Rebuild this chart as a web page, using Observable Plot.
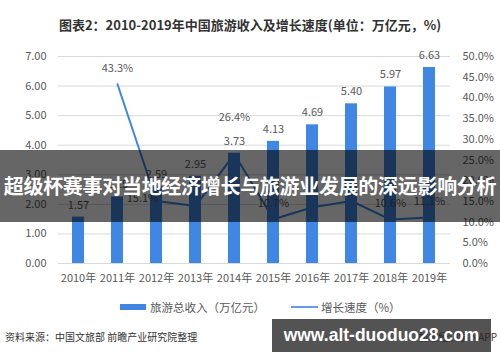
<!DOCTYPE html>
<html><head><meta charset="utf-8">
<script src="https://cdn.jsdelivr.net/npm/d3@7"></script>
<script src="https://cdn.jsdelivr.net/npm/@observablehq/plot@0.6"></script>
<style>
body{margin:0;background:#fff;font-family:"Noto Sans CJK SC","Noto Sans",sans-serif;}
#wrap{position:relative;width:500px;height:362px;overflow:hidden;background:#fff;}
#title{position:absolute;left:0;width:500px;top:15px;text-align:center;font-size:13px;font-weight:bold;color:#333;line-height:20px;}
#chart{position:absolute;left:0;top:0;}
#legend{position:absolute;top:298px;left:0;width:500px;height:18px;font-size:11.5px;color:#595959;}
#legend span{position:absolute;line-height:18px;white-space:nowrap;}
#source{position:absolute;left:5px;top:329px;font-size:10px;color:#333;line-height:16px;white-space:nowrap;}
#app{position:absolute;right:3px;top:329px;font-size:10px;color:#333;line-height:16px;white-space:nowrap;}
#banner{position:absolute;left:0;top:150px;width:500px;height:72px;background:rgba(0,0,0,0.6);color:#fff;font-weight:bold;font-size:20px;line-height:72px;text-align:center;white-space:nowrap;letter-spacing:-0.3px;}
#wm{position:absolute;left:272px;top:319px;width:219px;height:33px;background:rgba(40,40,40,0.8);color:#fff;font-weight:bold;font-size:17.5px;line-height:33px;text-align:center;white-space:nowrap;font-family:"Liberation Sans",Arial,sans-serif;}
</style></head>
<body><div id="wrap">
<div id="title">图表2：2010-2019年中国旅游收入及增长速度(单位：万亿元，%)</div>
<div id="chart"></div>
<div id="legend">
  <span style="left:120px;top:6px;width:26px;height:6px;background:#3d85df;"></span>
  <span style="left:150px;top:0;">旅游总收入（万亿元）</span>
  <span style="left:291px;top:8px;width:27px;height:2px;background:#5f9ef0;"></span>
  <span style="left:321px;top:0;">增长速度（%）</span>
</div>
<div id="source">资料来源：中国文旅部 前瞻产业研究院整理</div>
<div id="app">前瞻经济学人APP</div>
<div id="banner">超级杯赛事对当地经济增长与旅游业发展的深远影响分析</div>
<div id="wm">www.alt-duoduo28.com</div>
</div>
<script>
const years = ["2010年","2011年","2012年","2013年","2014年","2015年","2016年","2017年","2018年","2019年"];
const revenue = [1.57,2.25,2.59,2.95,3.73,4.13,4.69,5.40,5.97,6.63];
const growth = [null,43.3,15.1,13.9,26.4,10.7,13.6,15.1,10.6,11.1];
const labeledGrowthYears = ["2011年","2012年","2014年","2015年","2018年","2019年"];
const leftTicks = [0,1,2,3,4,5,6,7];
const rightTicks = [0,5,10,15,20,25,30,35,40,45,50];

const rightMax = 50, leftMax = 7;
const toLeft = v => v * leftMax / rightMax;

const bars = years.map((y,i)=>({year:y, rev:revenue[i]}));
const pts = years.map((y,i)=>({year:y, g:growth[i]})).filter(d=>d.g!=null);
const labeled = pts.filter(d=>labeledGrowthYears.includes(d.year));
const normalPts = labeled.filter(d=>d.year!=="2014年" && d.year!=="2012年");

const plot = Plot.plot({
  width:500, height:300,
  marginTop:56, marginBottom:37, marginLeft:58, marginRight:50,
  style:{fontFamily:'"Noto Sans CJK SC","Noto Sans",sans-serif', fontSize:"11px", color:"#595959", background:"transparent"},
  x:{domain:years, paddingInner:0.69, paddingOuter:0.345, label:null},
  y:{domain:[0,leftMax], label:null},
  marks:[
    Plot.gridY(leftTicks,{stroke:"#d9d9d9", strokeOpacity:1}),
    Plot.axisY(leftTicks,{anchor:"left", tickSize:0, tickPadding:12, tickFormat:d=>d.toFixed(2), label:null, fontSize:11}),
    Plot.axisY(rightTicks.map(toLeft),{anchor:"right", tickSize:0, tickPadding:12, tickFormat:d=>(d*rightMax/leftMax).toFixed(1)+"%", label:null, fontSize:11}),
    Plot.axisX({tickSize:0, tickPadding:11, label:null, fontSize:11}),
    Plot.barY(bars,{x:"year", y:"rev", fill:"#3f87e2"}),
    Plot.line(pts,{x:"year", y:d=>toLeft(d.g), stroke:"#3e86e4", strokeWidth:2}),
    Plot.text(bars,{x:"year", y:"rev", text:d=>d.rev.toFixed(2), dy:-12, fill:"#595959", fontSize:11}),
    Plot.text(normalPts,{x:"year", y:d=>toLeft(d.g), text:d=>d.g.toFixed(1)+"%", dy:-16, fill:"#595959", fontSize:11}),
    Plot.text(labeled.filter(d=>d.year==="2014年"),{x:"year", y:d=>toLeft(d.g), text:d=>d.g.toFixed(1)+"%", dy:-37, fill:"#595959", fontSize:11}),
    Plot.text(labeled.filter(d=>d.year==="2012年"),{x:"year", y:d=>toLeft(d.g), text:d=>d.g.toFixed(1)+"%", dx:-14, dy:-3, fill:"#595959", fontSize:11})
  ]
});
document.getElementById("chart").appendChild(plot);
</script>
</body></html>
